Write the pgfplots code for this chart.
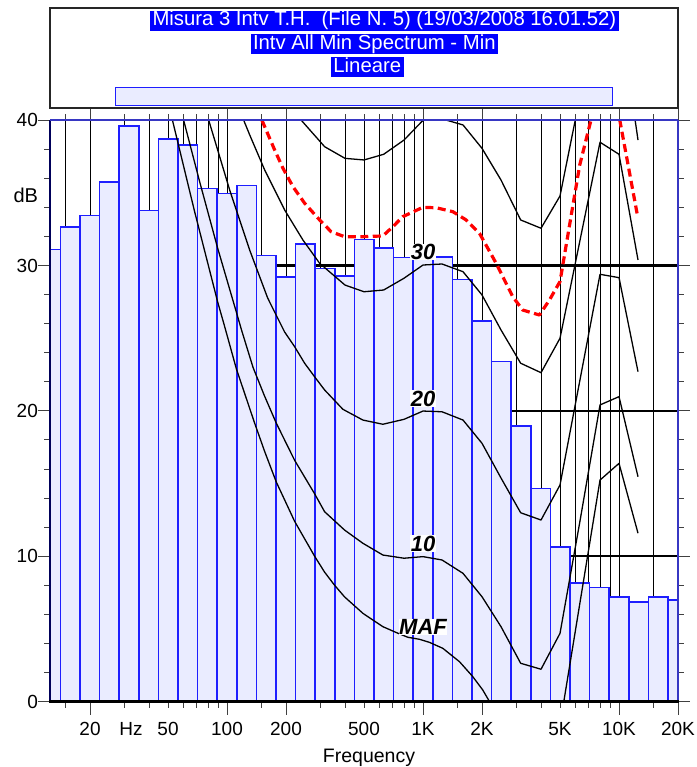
\documentclass[border=0pt]{standalone}
\usepackage{fontspec}
\setmainfont{Liberation Sans}
\usepackage{pgfplots}
\pgfplotsset{compat=1.18}
\definecolor{barfill}{RGB}{234,236,255}
\definecolor{barline}{RGB}{30,30,255}
\definecolor{frametop}{RGB}{55,55,195}
\definecolor{frameleft}{RGB}{0,0,90}
\definecolor{hl}{RGB}{0,0,255}
\definecolor{dashred}{RGB}{255,0,0}
\begin{document}
\begin{tikzpicture}
\path[use as bounding box] (-50pt,-65.5pt) rectangle (646pt,701.5pt);
\begin{axis}[
  at={(0pt,0pt)}, anchor=south west,
  scale only axis, width=628pt, height=581.2pt,
  xmode=log, xmin=12.5, xmax=20000, ymin=0, ymax=40,
  clip mode=individual,
  axis line style={draw=none},
  tick align=outside,
  xtick={20,30,50,100,200,500,1000,2000,5000,10000,20000},
  xticklabels={20,{\hspace*{13pt}Hz},50,100,200,500,1K,2K,5K,10K,20K},
  minor xtick={15,40,60,70,80,90,150,300,400,600,700,800,900,1500,3000,4000,6000,7000,8000,9000,15000},
  extra x ticks={20,100,200,1000,2000,10000,20000},
  extra x tick labels={},
  extra x tick style={grid=none, xtick style={/pgfplots/major tick length=13pt}},
  xtick style={/pgfplots/major tick length=6pt, black!75, line width=1pt},
  ytick={0,10,20,30,40}, yticklabels={0,10,20,30,40},
  minor y tick num=4,
  ytick style={black!75, line width=1pt},
  major tick length=12pt, minor tick length=6pt,
  xmajorgrids, xminorgrids, ymajorgrids,
  major x grid style={black, line width=1pt},
  minor x grid style={black, line width=1pt},
  major y grid style={black, line width=2.4pt},
  tick label style={font=\fontsize{19}{20}\selectfont, text=black},
  yticklabel style={anchor=east, inner sep=0pt},
  xticklabel style={inner sep=0pt, yshift=-9pt},
  /pgf/number format/assume math mode=true,
]
% 1/3-octave band spectrum: lower band edges, level of band
\addplot[ybar interval, fill=barfill, draw=barline, line width=1.6pt] coordinates {
(11.22,31.1) (14.13,32.65) (17.78,33.45) (22.39,35.75) (28.18,39.6) (35.48,33.8)
(44.67,38.7) (56.23,38.3) (70.79,35.3) (89.13,34.95) (112.2,35.5) (141.3,30.7)
(177.8,29.2) (223.9,31.5) (281.8,29.8) (354.8,29.3) (446.7,31.8) (562.3,31.2)
(707.9,30.55) (891.3,30.5) (1122,30.6) (1413,29.05) (1778,26.2) (2239,23.4)
(2818,18.95) (3548,14.65) (4467,10.65) (5623,8.15) (7079,7.85) (8913,7.2)
(11220,6.85) (14125,7.2) (17783,7.0) (22387,7.0)};
% MAF
\addplot[black, line width=1.3pt, line join=round] coordinates {
(52.7,40.0) (68.4,33.7) (89.6,27.5) (97.3,25.8) (111.6,22.9) (138.4,19.15) (155.7,17.2)
(178.5,15.1) (221.3,12.4) (279.8,10.0) (314.8,8.9) (353.9,8.0) (398,7.2) (493.4,6.07)
(624,5.15) (744,4.7) (837,4.42) (960,4.28) (1079,4.07) (1262,3.66) (1535,2.74)
(1795,1.71) (2018,0.79) (2183,0.0) (2500,-1.4) (3150,-4) (4000,-5) (5000,-1.6)
(8000,15.24) (10000,16.39) (12500,11.58)};
% 10 phon
\addplot[black, line width=1.3pt, line join=round] coordinates {
(60.1,40.0) (72.6,35.75) (89.6,31.2) (111.6,26.8) (118.4,25.6) (135.7,23.0) (155.7,21.0)
(178.5,19.15) (221.3,16.6) (279.8,14.3) (314.8,13.06) (398,11.8) (493.4,10.89) (624,10.08)
(800,9.86) (1000,9.97) (1250,9.74) (1600,8.82) (2000,7.21) (2500,5.15) (3150,2.63)
(4000,2.22) (5000,4.69) (6300,12.3) (8000,20.41) (10000,20.98) (12500,15.47)};
% 20 phon
\addplot[black, line width=1.3pt, line join=round] coordinates {
(80.7,40) (103.2,35.2) (130.5,31.07) (161.2,27.77) (196.8,25.43) (221.3,24.42) (248.9,23.28)
(279.8,22.35) (314.8,21.44) (390.2,20.11) (493.4,19.37) (624,19.08) (800,19.42) (1000,19.99)
(1250,19.94) (1600,19.37) (2000,17.77) (2500,15.38) (3150,12.99) (4000,12.49) (5000,14.9)
(8000,29.4) (10000,29.17) (12500,22.7)};
% 30 phon
\addplot[black, line width=1.3pt, line join=round] coordinates {
(121.7,40) (130.5,39.0) (155.7,36.58) (196.8,33.83) (244,31.76) (296.8,30.16) (400,28.66)
(500,28.2) (630,28.32) (800,29.13) (1000,30.04) (1250,30.11) (1600,29.58) (2000,27.98)
(2500,25.57) (3150,23.28) (4000,22.63) (5000,25.0) (8000,38.49) (10000,37.66) (12500,30.39)};
% 40 phon
\addplot[black, line width=1.3pt, line join=round] coordinates {
(239.4,40) (315,38.18) (400,37.38) (500,37.27) (630,37.66) (800,38.64) (1000,40.0)
(1250,40.1) (1600,39.68) (2000,38.07) (2500,35.89) (3150,33.14) (4000,32.57) (5000,34.79)
(8000,48.5) (10000,47.7) (12500,38.64)};
% red dashed
\addplot[dashred, line width=3.2pt, dash pattern=on 8pt off 4.5pt, line join=round] coordinates {
(150.8,40) (175,37.96) (193,36.7) (217,35.43) (249,34.29) (297,33.14) (340,32.33)
(398,31.99) (493,31.99) (624,32.04) (702,32.68) (789,33.37) (998,34.01) (1168,33.98)
(1420,33.71) (1661,33.14) (1942,32.22) (2361,30.16) (2870,27.86) (3228,26.94) (3926,26.6)
(4416,27.63) (5000,28.9) (6300,36.9) (8000,42.5) (10000,40.3) (12450,33.37)};
\tikzset{curvelab/.style={fill=white, inner sep=0.6pt, font=\fontsize{22}{22}\selectfont\bfseries\itshape}}
\node[curvelab] at (axis cs:1000,30.93) {30};
\node[curvelab] at (axis cs:1000,20.84) {20};
\node[curvelab] at (axis cs:1000,10.86) {10};
\node[curvelab] at (axis cs:1000,5.12) {MAF};
\end{axis}
% frame
\draw[frameleft, line width=2pt] (0pt,0pt) -- (0pt,581.2pt);
\draw[frametop, line width=2.2pt] (0pt,581.2pt) -- (628pt,581.2pt);
\draw[frametop, line width=1.5pt] (628pt,581.2pt) -- (628pt,0pt);
\draw[black, line width=2.6pt] (-1pt,0pt) -- (629pt,0pt);
% axis texts
\node[anchor=base, inner sep=0pt, font=\fontsize{20}{20}\selectfont] at (-24.2pt,499.2pt) {dB};
\node[anchor=base, inner sep=0pt, font=\fontsize{19.5}{20}\selectfont] at (319pt,-60.5pt) {Frequency};
% title box
\draw[black!85, line width=1.2pt] (0pt,593.5pt) rectangle (628pt,693.5pt);
\tikzset{hlt/.style={fill=hl, text=white, inner xsep=2.5pt, inner ysep=0pt, text height=15pt, text depth=5pt, font=\fontsize{20.3}{20}\selectfont}}
\node[hlt] at (334.4pt,680.5pt) {Misura 3 Intv T.H.\ \ (File N. 5) (19/03/2008 16.01.52)};
\node[hlt] at (324.3pt,657.2pt) {Intv All Min Spectrum - Min};
\node[hlt] at (317.3pt,634pt) {Lineare};
\draw[barline, fill=barfill, line width=1.2pt] (65.6pt,595.8pt) rectangle (562.4pt,614.2pt);
\end{tikzpicture}
\end{document}
